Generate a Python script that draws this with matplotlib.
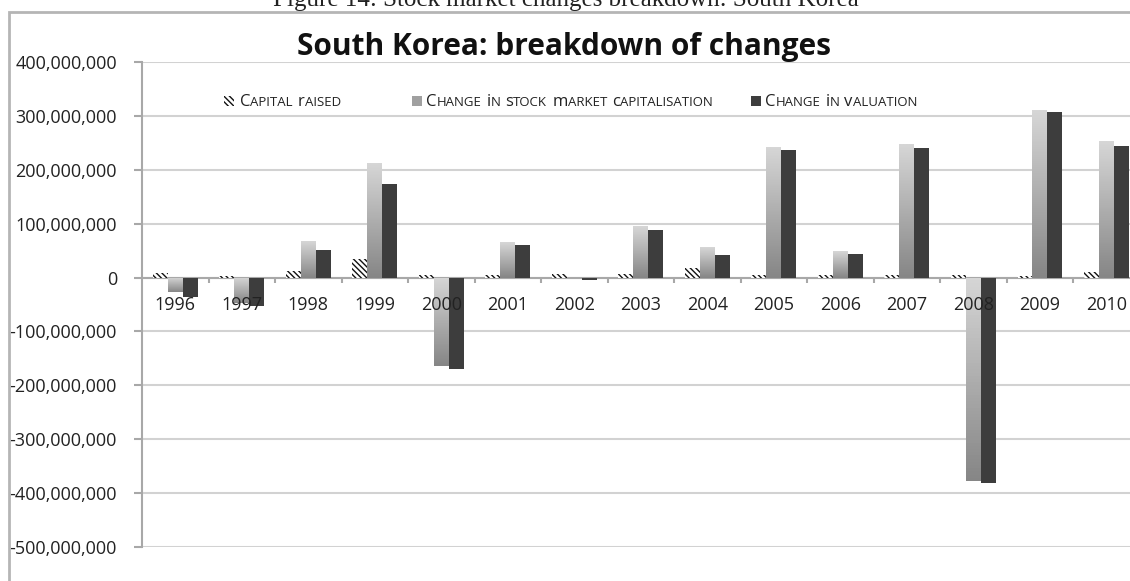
import numpy as np
import matplotlib
matplotlib.use('Agg')
import matplotlib.pyplot as plt
from matplotlib.colors import LinearSegmentedColormap
from matplotlib.patches import Rectangle

W, H = 1130, 581

years = ['1996', '1997', '1998', '1999', '2000', '2001', '2002', '2003',
         '2004', '2005', '2006', '2007', '2008', '2009', '2010']
# values in millions
capital_raised = [9, 3, 12, 34, 5, 5, 7, 7, 17, 5, 4, 5, 5, 3, 10]
market_cap_change = [-27, -48, 67, 212, -165, 66, -1, 96, 57, 242, 49, 248, -377, 311, 253]
valuation_change = [-37, -52, 52, 174, -170, 60, -4, 88, 42, 237, 43, 241, -381, 308, 244]

ylabels = ['400,000,000', '300,000,000', '200,000,000', '100,000,000', '0',
           '-100,000,000', '-200,000,000', '-300,000,000', '-400,000,000', '-500,000,000']

font = 'Open Sans'
plt.rcParams['font.family'] = [font, 'DejaVu Sans']
plt.rcParams['hatch.linewidth'] = 1.0
hatch = '\\' * 6


def fx(px):
    return px / W


def fy(py):
    return 1 - py / H


fig = plt.figure(figsize=(W / 100, H / 100), dpi=100)
ax = fig.add_axes([fx(142), fy(547), 15 * 66.5 / W, (547 - 62) / H])

x = np.arange(len(years))
bw = 0.225
cap = np.array(capital_raised) * 1e6
mkt = np.array(market_cap_change) * 1e6
val = np.array(valuation_change) * 1e6

ax.bar(x - bw, cap, bw, color='white', edgecolor='#111111', hatch=hatch, linewidth=0, zorder=3)

grad_cmap = LinearSegmentedColormap.from_list('g', ['#d6d6d6', '#868686'])
grad = np.linspace(0, 1, 64).reshape(-1, 1)
bars = ax.bar(x, mkt, bw, color='#aaaaaa', linewidth=0, zorder=3)
for b in bars:
    x0, y0 = b.get_x(), b.get_y()
    bwid, bh = b.get_width(), b.get_height()
    ylo, yhi = min(y0, y0 + bh), max(y0, y0 + bh)
    im = ax.imshow(grad, extent=[x0, x0 + bwid, ylo, yhi], origin='upper',
                   aspect='auto', cmap=grad_cmap, zorder=3.5)
    im.set_clip_path(b)

ax.bar(x + bw, val, bw, color='#3d3d3d', linewidth=0, zorder=4)

ax.set_xlim(-0.5, 14.5)
ax.set_ylim(-500e6, 400e6)
ax.set_yticks(np.arange(400e6, -501e6, -100e6))
ax.set_yticklabels(ylabels)
ax.tick_params(axis='y', length=6, color='#a8a8a8', width=1.5, pad=12,
               labelsize=13, labelcolor='#222222')
ax.set_xticks([])
ax.yaxis.grid(True, color='#d2d2d2', lw=1.5)
ax.set_axisbelow(True)
for s in ['top', 'right', 'bottom']:
    ax.spines[s].set_visible(False)
ax.spines['left'].set_color('#a8a8a8')
ax.spines['left'].set_linewidth(1.5)

ax.axhline(0, color='#a8a8a8', lw=1.5, zorder=2)
ax.vlines(np.arange(0.5, 15, 1), -10e6, 0, color='#a8a8a8', lw=1.5, zorder=2)
for i, yr in enumerate(years):
    ax.text(i, -50e6, yr, ha='center', va='center', fontsize=13,
            color='#222222', zorder=6)

# outer frame
fig.patches.append(Rectangle((fx(9), -0.1), 1.2, fy(12) + 0.1, transform=fig.transFigure,
                             fill=False, ec='#b5b5b5', lw=2))

fig.text(fx(566), fy(6), 'Figure 14: Stock market changes breakdown: South Korea',
         ha='center', va='baseline', fontsize=18, family='Liberation Serif', color='#222222')
fig.text(fx(564), fy(47), 'South Korea: breakdown of changes', ha='center', va='center',
         fontsize=21.5, fontweight='bold', color='#111111')

renderer = fig.canvas.get_renderer()


def small_caps(xp, yp, text, big=12, small=9.5):
    xf = fx(xp)
    for k, word in enumerate(text.split()):
        if k:
            xf += 5 / W
        for part, size in ((word[0], big), (word[1:].upper(), small)):
            if not part:
                continue
            t = fig.text(xf, fy(yp), part, fontsize=size, va='baseline', ha='left',
                         color='#222222')
            xf += t.get_window_extent(renderer).width / W


legend_items = [
    (224, 240, 'Capital raised', dict(facecolor='white', edgecolor='#111111', hatch=hatch, lw=0)),
    (412, 426, 'Change in stock market capitalisation', dict(facecolor='#a0a0a0', lw=0)),
    (751, 765, 'Change in valuation', dict(facecolor='#3d3d3d', lw=0)),
]
for ix, tx, label, style in legend_items:
    fig.patches.append(Rectangle((fx(ix), fy(106)), 10 / W, 10 / H,
                                 transform=fig.transFigure, **style))
    small_caps(tx, 106, label)

fig.savefig('out.png', dpi=100)
